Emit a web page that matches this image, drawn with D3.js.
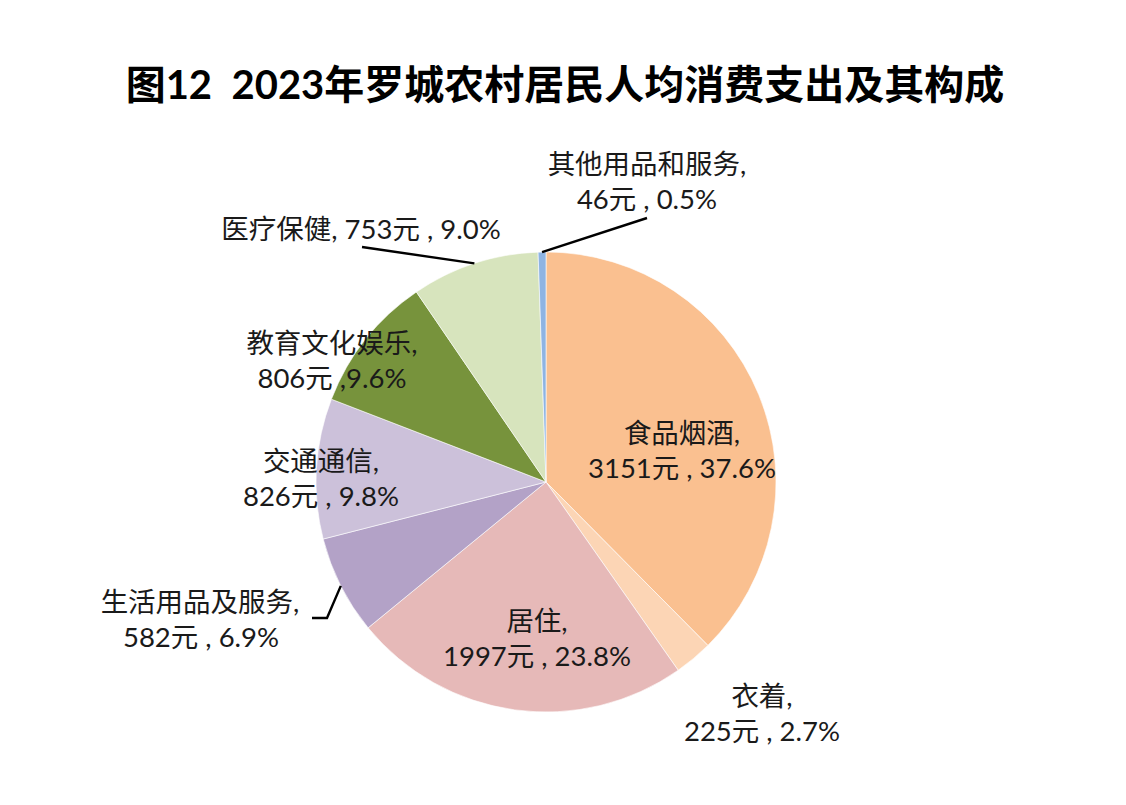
<!DOCTYPE html>
<html>
<head>
<meta charset="utf-8">
<script src="https://cdn.jsdelivr.net/npm/d3@7"></script>
<style>
  body { margin: 0; background: #fff; }
  text { font-family: "Lato", "Noto Sans CJK SC", sans-serif; }
</style>
</head>
<body>
<script>
// data
var categories = ["食品烟酒", "衣着", "居住", "生活用品及服务", "交通通信", "教育文化娱乐", "医疗保健", "其他用品和服务"];
var amounts = [3151, 225, 1997, 582, 826, 806, 753, 46];
var percents = ["37.6", "2.7", "23.8", "6.9", "9.8", "9.6", "9.0", "0.5"];
var colors = ["#FAC090", "#FCD5B5", "#E6B9B8", "#B3A2C7", "#CCC1DA", "#77933C", "#D7E4BD", "#8EB4E3"];

var title = "图12  2023年罗城农村居民人均消费支出及其构成";

// label placement, offsets from pie centre
var labelLayout = [
  {dx: 136, dy: -50, lines: 2},
  {dx: 216, dy: 213, lines: 2},
  {dx: -9, dy: 138, lines: 2},
  {dx: -346, dy: 119, lines: 2, dx2: 1},
  {dx: -225, dy: -22, lines: 2},
  {dx: -214, dy: -140, lines: 2, tight: true},
  {dx: -185, dy: -254, lines: 1},
  {dx: 101, dy: -319, lines: 2}
];
// leader line ends (from pie edge out to the label)
var leaders = [
  {i: 7, pts: [[101, -264]]},
  {i: 6, pts: [[-184, -235]]},
  {i: 3, pts: [[-219, 136], [-234, 136]]}
];

var width = 1126, height = 805;
var cx = 546, cy = 482, radius = 230;

var svg = d3.select("body").append("svg")
  .attr("width", width)
  .attr("height", height);

svg.append("text")
  .attr("x", 565)
  .attr("y", 84)
  .attr("text-anchor", "middle")
  .attr("dominant-baseline", "central")
  .attr("font-size", 40)
  .attr("font-weight", "bold")
  .attr("fill", "#000")
  .style("white-space", "pre")
  .text(title);

var pie = d3.pie().sort(null).value(function(d){ return d; });
var arcs = pie(amounts);

var arc = d3.arc().innerRadius(0).outerRadius(radius);
var edge = d3.arc().innerRadius(radius).outerRadius(radius);

var g = svg.append("g").attr("transform", "translate(" + cx + "," + cy + ")");

g.selectAll(".slice")
  .data(arcs)
  .enter()
  .append("path")
  .attr("class", "slice")
  .attr("d", arc)
  .attr("fill", function(d, i){ return colors[i]; })
  .attr("stroke", "#fff")
  .attr("stroke-width", 0.6);

// leader lines
leaders.forEach(function(l){
  var start = edge.centroid(arcs[l.i]);
  var pts = [start].concat(l.pts);
  g.append("path")
    .attr("d", d3.line()(pts))
    .attr("fill", "none")
    .attr("stroke", "#000")
    .attr("stroke-width", 2.4);
});

// labels
var lh = 35;
categories.forEach(function(name, i){
  var L = labelLayout[i];
  var sep = L.tight ? " ," : " , ";
  var valText = amounts[i] + "元" + sep + percents[i] + "%";
  var t = g.append("text")
    .attr("text-anchor", "middle")
    .attr("font-size", 27.5)
    .attr("fill", "#1a1a1a")
    .style("white-space", "pre");
  if (L.lines === 1) {
    t.append("tspan")
      .attr("x", L.dx).attr("y", L.dy)
      .attr("dominant-baseline", "central")
      .text(name + ", " + valText);
  } else {
    t.append("tspan")
      .attr("x", L.dx).attr("y", L.dy)
      .attr("dominant-baseline", "central")
      .text(name + ",");
    t.append("tspan")
      .attr("x", L.dx + (L.dx2 || 0)).attr("y", L.dy + lh)
      .attr("dominant-baseline", "central")
      .text(valText);
  }
});
</script>
</body>
</html>
